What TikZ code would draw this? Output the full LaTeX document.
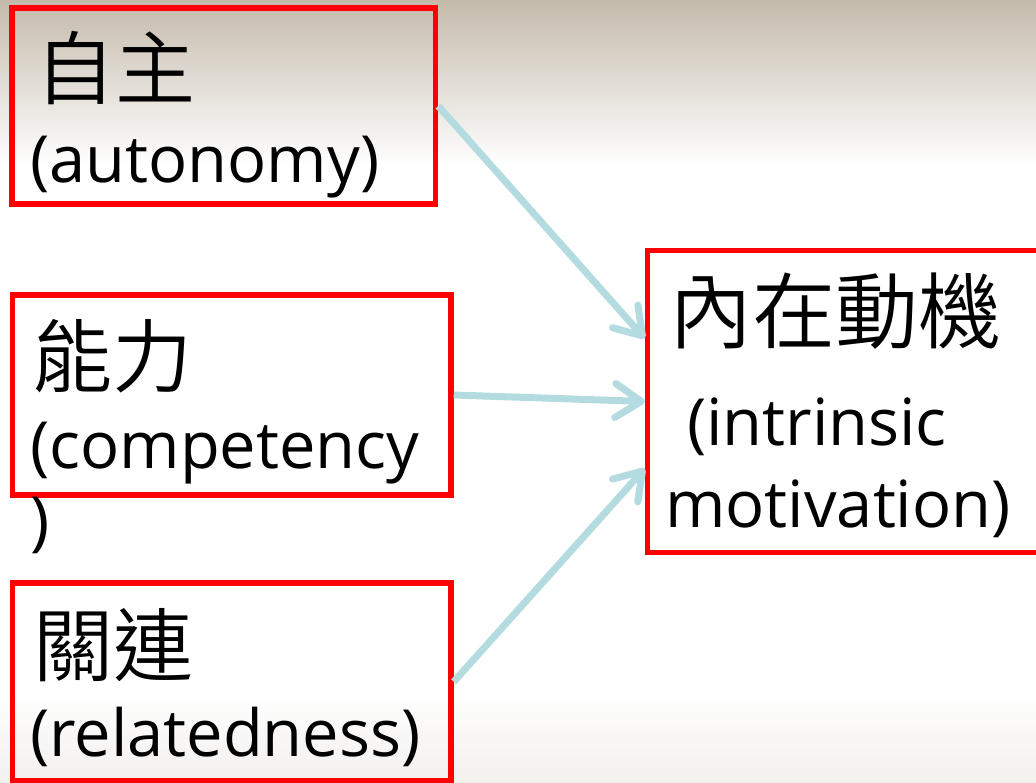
\documentclass[tikz,border=0pt]{standalone}
\usepackage{fontspec}
\setmainfont{Open Sans}
\newfontfamily\cjk{Noto Sans CJK TC DemiLight}
\usetikzlibrary{arrows.meta}
\definecolor{boxred}{RGB}{255,0,0}
\definecolor{linkblue}{RGB}{180,220,224}
\definecolor{bgtan}{RGB}{196,186,171}
\definecolor{bgfoot}{RGB}{242,240,237}
\begin{document}
\begin{tikzpicture}[x=1pt,y=-1pt,
  box/.style={draw=boxred, line width=5.5pt, inner sep=0pt},
  zh/.style={anchor=base west, inner sep=0pt, font=\cjk\fontsize{80}{96}\selectfont},
  en/.style={anchor=base west, inner sep=0pt, font=\fontsize{65}{78}\selectfont},
  link/.style={draw=linkblue, line width=7pt, -{Straight Barb[length=26pt,width=34pt,round]}}]
\useasboundingbox (0,0) rectangle (1036,783);
\clip (0,0) rectangle (1036,783);
% slide background
\fill[white] (0,0) rectangle (1036,783);
\shade[top color=bgtan, bottom color=white] (0,0) rectangle (1036,165);
\shade[top color=white, bottom color=bgfoot] (0,690) rectangle (1036,783);
% boxes
\node[box, minimum width=423.5pt, minimum height=196pt] (auto) at (223.75,106) {};
\node[box, minimum width=438.5pt, minimum height=200pt] (comp) at (231.75,395) {};
\node[box, minimum width=438.5pt, minimum height=197.5pt] (rel) at (231.75,681.75) {};
\node[box, minimum width=412.5pt, minimum height=302pt] (intr) at (853.75,401.5) {};
% texts
\node[zh] (autozh) at (35,99) {自主};
\node[en] (autoen) at (30,183) {(autonomy)};
\node[zh] (compzh) at (32,387) {能力};
\node[en] (compen) at (30,468) {(competency};
\node[en] (compend) at (30,543) {)};
\node[zh] (relzh) at (33,675) {關連};
\node[en] (relen) at (30,756) {(relatedness)};
\node[zh, font=\cjk\fontsize{83}{96}\selectfont] (intrzh) at (669,343) {內在動機};
\node[en] (intren) at (670,445) {\ (intrinsic};
\node[en] (intrmot) at (665,527) {motivation)};
% arrows
\draw[link] (auto.east) -- ([yshift=63pt]intr.west);
\draw[link] (comp.east) -- (intr.west);
\draw[link] (rel.east) -- ([yshift=-67pt]intr.west);
\end{tikzpicture}
\end{document}
